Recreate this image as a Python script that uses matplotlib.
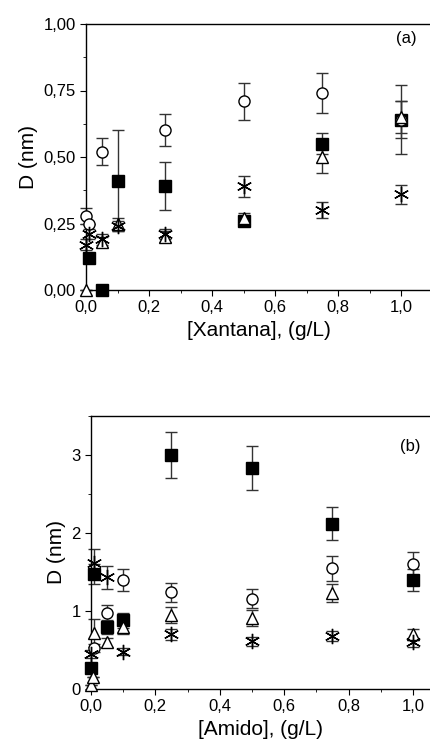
import numpy as np
import matplotlib.pyplot as plt
from matplotlib.ticker import MultipleLocator, FuncFormatter

plt.rcParams['font.family'] = ['Liberation Sans', 'DejaVu Sans']

# (a) Xantana
xa_sq = [0.01, 0.05, 0.1, 0.25, 0.5, 0.75, 1.0]
ya_sq = [0.12, 0.0, 0.41, 0.39, 0.26, 0.55, 0.64]
ea_sq = [0.0, 0.0, 0.19, 0.09, 0.02, 0.04, 0.07]
xa_ci = [0.0, 0.01, 0.05, 0.25, 0.5, 0.75, 1.0]
ya_ci = [0.28, 0.25, 0.52, 0.60, 0.71, 0.74, 0.64]
ea_ci = [0.03, 0.0, 0.05, 0.06, 0.07, 0.075, 0.13]
xa_tr = [0.0, 0.05, 0.1, 0.25, 0.5, 0.75, 1.0]
ya_tr = [0.0, 0.18, 0.25, 0.20, 0.27, 0.50, 0.65]
ea_tr = [0.0, 0.02, 0.02, 0.02, 0.02, 0.06, 0.06]
xa_st = [0.0, 0.01, 0.05, 0.1, 0.25, 0.5, 0.75, 1.0]
ya_st = [0.17, 0.21, 0.19, 0.24, 0.21, 0.39, 0.30, 0.36]
ea_st = [0.02, 0.02, 0.02, 0.02, 0.02, 0.04, 0.03, 0.035]

# (b) Amido
xb_sq = [0.0, 0.01, 0.05, 0.1, 0.25, 0.5, 0.75, 1.0]
yb_sq = [0.27, 1.47, 0.79, 0.88, 3.0, 2.83, 2.12, 1.40]
eb_sq = [0.03, 0.13, 0.08, 0.1, 0.3, 0.28, 0.21, 0.14]
xb_ci = [0.01, 0.05, 0.1, 0.25, 0.5, 0.75, 1.0]
yb_ci = [0.53, 0.98, 1.40, 1.24, 1.16, 1.55, 1.60]
eb_ci = [0.05, 0.1, 0.14, 0.12, 0.12, 0.16, 0.16]
xb_tr = [0.0, 0.005, 0.01, 0.05, 0.1, 0.25, 0.5, 0.75, 1.0]
yb_tr = [0.05, 0.15, 0.72, 0.60, 0.79, 0.95, 0.91, 1.23, 0.70]
eb_tr = [0.0, 0.0, 0.18, 0.06, 0.08, 0.1, 0.1, 0.12, 0.07]
xb_st = [0.0, 0.01, 0.05, 0.1, 0.25, 0.5, 0.75, 1.0]
yb_st = [0.45, 1.62, 1.43, 0.48, 0.70, 0.61, 0.68, 0.60]
eb_st = [0.05, 0.17, 0.15, 0.05, 0.07, 0.06, 0.07, 0.06]

comma = FuncFormatter(lambda v, p: f"{v:.1f}".replace(".", ","))
star = (6, 2, 0)

fig = plt.figure(figsize=(4.31, 7.48), dpi=100)
ax1 = fig.add_axes([86/431, 1-290/748, 345/431, 266/748])
ax2 = fig.add_axes([91/431, 1-689/748, 340/431, 273/748])


def draw(ax, series):
    for x, y, e, m, fc in series:
        ax.errorbar(x, y, yerr=e, fmt='none', ecolor='#333333', capsize=4,
                    elinewidth=1, capthick=1, clip_on=False, zorder=2)
        ax.plot(x, y, linestyle='none', marker=m, mfc=fc, mec='black',
                ms=8 if m != star else 11, mew=1, clip_on=False, zorder=3)
    for s in ax.spines.values():
        s.set_linewidth(1)
    ax.tick_params(direction='out', labelsize=12, length=4)
    ax.tick_params(which='minor', direction='out', length=2)
    ax.xaxis.set_major_locator(MultipleLocator(0.2))
    ax.xaxis.set_minor_locator(MultipleLocator(0.1))
    ax.xaxis.set_major_formatter(comma)
    ax.set_ylabel("D (nm)", fontsize=15)


draw(ax1, [(xa_sq, ya_sq, ea_sq, 's', 'black'), (xa_ci, ya_ci, ea_ci, 'o', 'white'),
           (xa_tr, ya_tr, ea_tr, '^', 'white'), (xa_st, ya_st, ea_st, star, 'black')])
draw(ax2, [(xb_sq, yb_sq, eb_sq, 's', 'black'), (xb_ci, yb_ci, eb_ci, 'o', 'white'),
           (xb_tr, yb_tr, eb_tr, '^', 'white'), (xb_st, yb_st, eb_st, star, 'black')])

ax1.set_xlim(0, 1.095)
ax1.set_ylim(0, 1.0)
ax1.yaxis.set_major_locator(MultipleLocator(0.25))
ax1.yaxis.set_minor_locator(MultipleLocator(0.125))
ax1.yaxis.set_major_formatter(FuncFormatter(lambda v, p: f"{v:.2f}".replace(".", ",")))
ax1.set_xlabel("[Xantana], (g/L)", fontsize=15)
ax1.text(0.9, 0.93, "(a)", transform=ax1.transAxes, fontsize=12)

ax2.set_xlim(0, 1.056)
ax2.set_ylim(0, 3.5)
ax2.yaxis.set_major_locator(MultipleLocator(1))
ax2.yaxis.set_minor_locator(MultipleLocator(0.5))
ax2.yaxis.set_major_formatter(FuncFormatter(lambda v, p: f"{v:.0f}"))
ax2.set_xlabel("[Amido], (g/L)", fontsize=15)
ax2.text(0.91, 0.87, "(b)", transform=ax2.transAxes, fontsize=12)

fig.savefig("out.png", dpi=100)
